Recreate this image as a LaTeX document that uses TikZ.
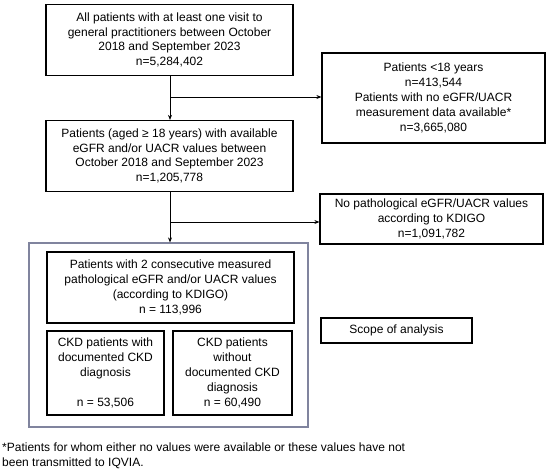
\documentclass[tikz,border=0pt]{standalone}
\usepackage{fontspec}
\setmainfont{Liberation Sans}
\usepackage{xcolor}
\usetikzlibrary{arrows.meta,positioning}

\definecolor{framegray}{RGB}{128,132,158}

\begin{document}
\begin{tikzpicture}[
  x=1pt,y=-1pt,
  stage/.style={draw, line width=1.2pt, align=center, inner sep=0pt,
    font=\fontsize{12}{14.8}\selectfont},
  flow/.style={->, line width=0.8pt, >={Stealth[length=5pt,width=4pt]}}
]
\useasboundingbox (0,0) rectangle (550,473);

\node[stage, minimum width=247pt, minimum height=71pt] (gp) at (169.5,40)
  {All patients with at least one visit to\\general practitioners between October\\2018 and September 2023\\n=5,284,402};
\node[stage, minimum width=247pt, minimum height=71pt] (adult) at (169.5,156)
  {Patients (aged ≥ 18 years) with available\\eGFR and/or UACR values between\\October 2018 and September 2023\\n=1,205,778};
\node[stage, minimum width=223pt, minimum height=90pt] (excl) at (433.5,98)
  {Patients <18 years\\n=413,544\\Patients with no eGFR/UACR\\measurement data available*\\n=3,665,080};
\node[stage, minimum width=223pt, minimum height=50pt] (nopath) at (431.5,219)
  {No pathological eGFR/UACR values\\according to KDIGO\\n=1,091,782};

% scope of analysis
\node[draw=framegray, line width=1.2pt, minimum width=279pt, minimum height=184pt] (scope) at (168.5,335) {};
\node[stage, minimum width=247pt, minimum height=71pt] (ckd) at (170.5,287.5)
  {Patients with 2 consecutive measured\\pathological eGFR and/or UACR values\\(according to KDIGO)\\n = 113,996};
\node[stage, minimum width=117pt, minimum height=84pt] (withdx) at (105.5,373)
  {CKD patients with\\documented CKD\\diagnosis\\\mbox{}\\n = 53,506};
\node[stage, minimum width=119pt, minimum height=84pt] (nodx) at (232.5,373)
  {CKD patients\\without\\documented CKD\\diagnosis\\n = 60,490};
\node[stage, minimum width=151pt, minimum height=25pt] (legend) at (396.5,330.5)
  {Scope of analysis};

\node[align=left, anchor=north west, inner sep=0pt,
  font=\fontsize{12}{14.8}\selectfont] (note) at (2,443)
  {*Patients for whom either no values were available or these values have not\\been transmitted to IQVIA.};

\coordinate (split1) at (170,97);
\coordinate (split2) at (170,222);

\draw[flow] (gp.south -| split1) -- (adult.north -| split1);
\draw[flow] (split1) -- (split1 -| excl.west);
\draw[flow] (adult.south -| split2) -- (scope.north -| split2);
\draw[flow] (split2) -- (split2 -| nopath.west);
\end{tikzpicture}
\end{document}
